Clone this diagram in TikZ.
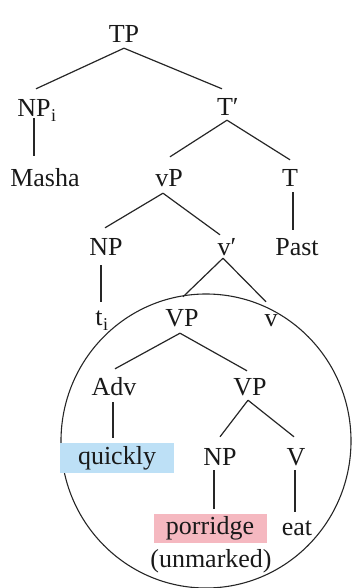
\documentclass[tikz,border=0pt]{standalone}
\usepackage{fontspec}
\setmainfont{Liberation Serif}
\usetikzlibrary{calc}
\definecolor{qblue}{RGB}{189,224,246}
\definecolor{ppink}{RGB}{245,184,192}
\newcommand{\subi}{\rlap{\kern0.5pt\raisebox{-5pt}{\fontsize{18}{20}\selectfont i}}}
\begin{document}
\begin{tikzpicture}[x=1pt,y=-1pt,
  lab/.style={font=\fontsize{26}{30}\selectfont, text=black!90, inner sep=0pt, text height=17.5pt, text depth=0pt, anchor=base},
  hl/.style={text height=18pt, text depth=6pt},
  br/.style={line width=1.2pt, draw=black!85}]
\useasboundingbox (0,0) rectangle (352,588);
\draw[br, line width=1.1pt] (206,441) ellipse [x radius=145, y radius=147];
\node[lab] (TP) at (124,43) {TP};
\node[lab] (NPi) at (34,117) {NP\subi};
\node[lab] (Tbar) at (225,116) {T\rlap{′}};
\node[lab] (Masha) at (45,186) {Masha};
\node[lab] (vP) at (169,186) {vP};
\node[lab] (T) at (290,186) {T};
\node[lab] (NP1) at (106,255) {NP};
\node[lab] (vbar) at (224,255) {v\rlap{′}};
\node[lab] (Past) at (297,255) {Past};
\node[lab] (ti) at (99,325) {t\subi};
\node[lab] (VP1) at (182,326) {VP};
\node[lab] (v) at (271,326) {v};
\node[lab] (Adv) at (114,395) {Adv};
\node[lab] (VP2) at (250,395) {VP};
\node[lab, hl, fill=qblue, minimum width=114pt, minimum height=30pt] (quickly) at (117,464) {quickly};
\node[lab] (NP2) at (220,465) {NP};
\node[lab] (V) at (296,465) {V};
\node[lab, hl, fill=ppink, minimum width=113pt, minimum height=29pt] (porridge) at (210,534) {porridge};
\node[lab] (eat) at (297,535) {eat};
\node[lab] (unm) at (211,567) {(unmarked)};
\draw[br] ($(TP.south)+(0,5)$) -- ($(NPi.north)+(2,-10.5)$);
\draw[br] ($(TP.south)+(0,5)$) -- ($(Tbar.north)+(-3,-9.5)$);
\draw[br] ($(NPi.south)+(0,1)$) -- ($(NPi.south |- Masha.north)+(0,-12.5)$);
\draw[br] ($(Tbar.south)+(2,4)$) -- ($(vP.north)+(1,-11.5)$);
\draw[br] ($(Tbar.south)+(2,4)$) -- ($(T.north)+(0,-8.5)$);
\draw[br] ($(T.south)+(3,6)$) -- ($(T.south |- Past.north)+(3,-7.5)$);
\draw[br] ($(vP.south)+(-6,7)$) -- ($(NP1.north)+(-1,-9.5)$);
\draw[br] ($(vP.south)+(-6,7)$) -- ($(vbar.north)+(-4,-2.5)$);
\draw[br] ($(NP1.south)+(-5,10)$) -- ($(NP1.south |- ti.north)+(-5,-5.5)$);
\draw[br] ($(vbar.south)+(-1,3)$) -- ($(VP1.north)+(1,-11.5)$);
\draw[br] ($(vbar.south)+(-1,3)$) -- ($(v.north)+(-5,-6.5)$);
\draw[br] ($(VP1.south)+(-2,7)$) -- ($(Adv.north)+(1,-8.5)$);
\draw[br] ($(VP1.south)+(-2,7)$) -- ($(VP2.north)+(-3,-6.5)$);
\draw[br] ($(Adv.south)+(-1,7)$) -- ($(Adv.south |- quickly.north)+(-1,-5)$);
\draw[br] ($(VP2.south)+(-2,5)$) -- ($(NP2.north)+(0,-10.5)$);
\draw[br] ($(VP2.south)+(-2,5)$) -- ($(V.north)+(-2,-10.5)$);
\draw[br] ($(NP2.south)+(-6,5)$) -- ($(NP2.south |- porridge.north)+(-6,-4)$);
\draw[br] ($(V.south)+(-1,5)$) -- ($(V.south |- eat.north)+(-1,-5.5)$);
\end{tikzpicture}
\end{document}
